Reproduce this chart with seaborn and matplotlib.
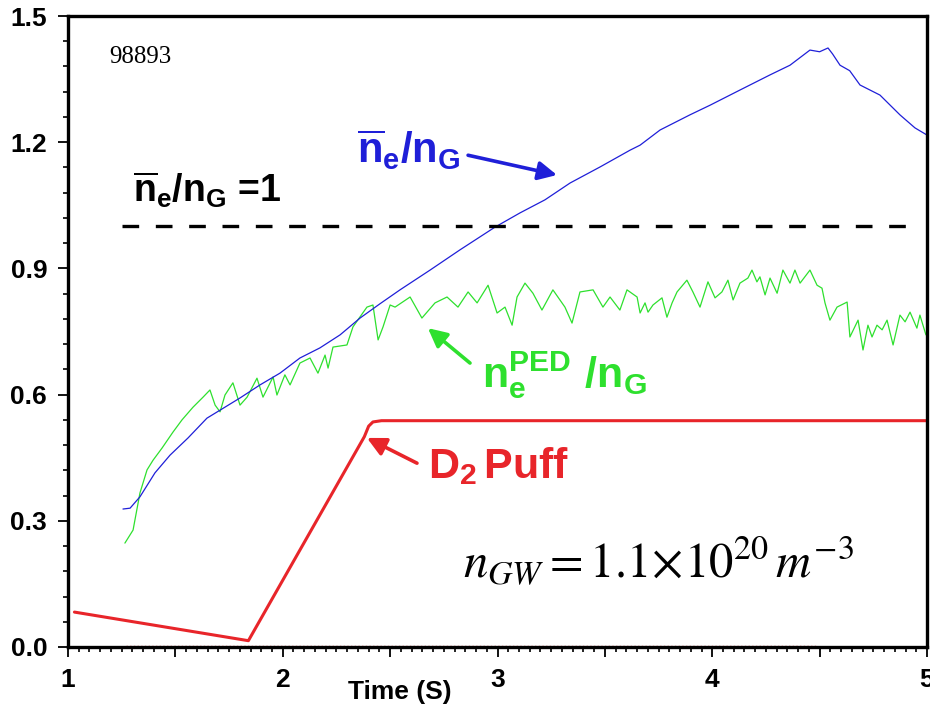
import numpy as np
import pandas as pd
import matplotlib
matplotlib.use("Agg")
import matplotlib.pyplot as plt
from matplotlib.ticker import MultipleLocator, FuncFormatter
import seaborn as sns

# ---------------- data ----------------
blue_t = [1.256, 1.289, 1.335, 1.405, 1.475, 1.559, 1.647, 1.708, 1.801, 1.894,
          1.987, 2.080, 2.173, 2.267, 2.360, 2.453, 2.546, 2.686, 2.825, 2.988,
          3.105, 3.221, 3.338, 3.477, 3.617, 3.664, 3.757, 3.896, 3.990, 4.129,
          4.269, 4.362, 4.455, 4.500, 4.539, 4.560, 4.595, 4.640, 4.688, 4.781,
          4.874, 4.944, 5.000]
blue_v = [0.328, 0.330, 0.357, 0.414, 0.456, 0.497, 0.544, 0.563, 0.592, 0.623,
          0.651, 0.687, 0.711, 0.742, 0.782, 0.816, 0.849, 0.896, 0.944, 0.998,
          1.032, 1.063, 1.103, 1.141, 1.181, 1.193, 1.229, 1.265, 1.288, 1.324,
          1.360, 1.383, 1.419, 1.415, 1.424, 1.410, 1.383, 1.370, 1.336, 1.312,
          1.265, 1.234, 1.217]

green_t = [1.265, 1.303, 1.335, 1.368, 1.396, 1.438, 1.489, 1.531, 1.582, 1.629,
           1.661, 1.685, 1.708, 1.731, 1.768, 1.801, 1.834, 1.880, 1.908, 1.955,
           1.973, 2.010, 2.034, 2.080, 2.127, 2.164, 2.197, 2.211, 2.234, 2.299,
           2.327, 2.392, 2.420, 2.444, 2.467, 2.500,
           2.523, 2.593, 2.648, 2.709, 2.765, 2.816, 2.863, 2.905, 2.956, 2.998,
           3.035, 3.068, 3.091, 3.128, 3.165, 3.207, 3.258, 3.314, 3.347, 3.384,
           3.445, 3.491, 3.524, 3.570, 3.603, 3.650,
           3.664, 3.687, 3.701, 3.724, 3.766, 3.789, 3.813, 3.836, 3.882, 3.910,
           3.943, 3.980, 4.013, 4.045, 4.073, 4.097, 4.129, 4.166, 4.185, 4.208,
           4.222, 4.246, 4.269, 4.302, 4.329, 4.362, 4.385, 4.409, 4.455, 4.488,
           4.511, 4.525, 4.548, 4.581, 4.628, 4.641, 4.679, 4.702, 4.725, 4.744,
           4.767, 4.791, 4.814, 4.842, 4.874, 4.898, 4.921, 4.953, 4.967, 4.995]
green_v = [0.247, 0.278, 0.366, 0.421, 0.444, 0.473, 0.511, 0.540, 0.570, 0.594,
           0.611, 0.575, 0.559, 0.599, 0.628, 0.575, 0.594, 0.639, 0.594, 0.642,
           0.599, 0.647, 0.623, 0.675, 0.687, 0.651, 0.694, 0.663, 0.713, 0.718,
           0.761, 0.808, 0.813, 0.730, 0.761, 0.813,
           0.808, 0.832, 0.782, 0.818, 0.832, 0.808, 0.844, 0.818, 0.860, 0.794,
           0.808, 0.765, 0.832, 0.865, 0.841, 0.801, 0.849, 0.808, 0.770, 0.844,
           0.849, 0.808, 0.832, 0.801, 0.849, 0.832,
           0.794, 0.818, 0.796, 0.813, 0.830, 0.784, 0.818, 0.844, 0.872, 0.844,
           0.808, 0.868, 0.830, 0.844, 0.872, 0.825, 0.865, 0.877, 0.896, 0.868,
           0.880, 0.837, 0.877, 0.841, 0.896, 0.865, 0.896, 0.865, 0.896, 0.860,
           0.853, 0.818, 0.777, 0.808, 0.820, 0.737, 0.777, 0.706, 0.765, 0.737,
           0.765, 0.754, 0.777, 0.718, 0.789, 0.773, 0.796, 0.758, 0.789, 0.742]

red_t = [1.03, 1.84, 2.38, 2.40, 2.42, 2.46, 5.00]
red_v = [0.083, 0.015, 0.500, 0.525, 0.535, 0.538, 0.538]

red_base_t = [1.27, 4.49]
red_base_v = [0.003, 0.003]

limit_t = [1.251, 4.953]
limit_v = [1.0, 1.0]

BLUE = "#1f1fd8"
GREEN = "#2ee02e"
RED = "#e8252a"

# ---------------- style ----------------
sns.set_theme(style="ticks")
plt.rcParams["font.family"] = ["Liberation Sans", "DejaVu Sans"]
plt.rcParams["mathtext.fontset"] = "custom"
plt.rcParams["mathtext.bf"] = "Liberation Sans:bold"
plt.rcParams["mathtext.rm"] = "Liberation Sans:bold"
plt.rcParams["mathtext.it"] = "Liberation Sans:bold:italic"

fig = plt.figure(figsize=(9.3, 7.12), dpi=100)
ax = fig.add_axes([68 / 930, 65 / 712, 859 / 930, 631 / 712])

df_b = pd.DataFrame({"t": blue_t, "v": blue_v})
df_g = pd.DataFrame({"t": green_t, "v": green_v})
df_r = pd.DataFrame({"t": red_t, "v": red_v})
df_rb = pd.DataFrame({"t": red_base_t, "v": red_base_v})
df_l = pd.DataFrame({"t": limit_t, "v": limit_v})

sns.lineplot(data=df_rb, x="t", y="v", ax=ax, color=RED, lw=1.0,
             linestyle=":", estimator=None, sort=False, clip_on=False)
sns.lineplot(data=df_r, x="t", y="v", ax=ax, color=RED, lw=2.2,
             estimator=None, sort=False)
sns.lineplot(data=df_g, x="t", y="v", ax=ax, color=GREEN, lw=0.9,
             estimator=None, sort=False)
sns.lineplot(data=df_b, x="t", y="v", ax=ax, color=BLUE, lw=0.9,
             estimator=None, sort=False)
sns.lineplot(data=df_l, x="t", y="v", ax=ax, color="black", lw=2.4,
             linestyle=(0, (5, 5)), estimator=None, sort=False)

ax.set_xlim(1, 5)
ax.set_ylim(0, 1.5)

for s in ax.spines.values():
    s.set_visible(True)
    s.set_linewidth(2.4)
    s.set_color("black")

ax.xaxis.set_major_locator(MultipleLocator(0.5))
ax.xaxis.set_minor_locator(MultipleLocator(0.05))
ax.xaxis.set_major_formatter(FuncFormatter(
    lambda v, p: f"{int(round(v))}" if abs(v - round(v)) < 1e-6 else ""))
ax.yaxis.set_major_locator(MultipleLocator(0.3))
ax.yaxis.set_minor_locator(MultipleLocator(0.06))
ax.yaxis.set_major_formatter(FuncFormatter(lambda v, p: f"{v:.1f}"))

ax.tick_params(axis="both", which="major", direction="out", length=7,
               width=1.3, color="black", labelsize=19, pad=8,
               labelcolor="black")
ax.tick_params(axis="both", which="minor", direction="out", length=3.5,
               width=1.2, color="black")
ax.tick_params(top=False, right=False, which="both")
for lab in ax.get_xticklabels() + ax.get_yticklabels():
    lab.set_fontweight("bold")

ax.set_xlabel("Time (S)", fontsize=19, fontweight="bold", color="black")
ax.xaxis.set_label_coords((400 - 68) / 859, -33 / 631)
ax.set_ylabel("")

# ---------------- annotations ----------------
ax.text(1.191, 1.388, "98893", fontsize=18, family="Liberation Serif",
        color="black", ha="left", va="baseline")

ax.text(1.303, 1.058, r"$\mathbf{\overline{n}_e/n_G}$ =1",
        fontsize=27, fontweight="bold", color="black",
        ha="left", va="baseline")
ax.text(2.346, 1.150, r"$\mathbf{\overline{n}_e/n_G}$", fontsize=30,
        color=BLUE, ha="left", va="baseline")
ax.text(2.928, 0.618, r"$\mathbf{n_e^{PED}\ /n_G}$", fontsize=31,
        color=GREEN, ha="left", va="baseline")
ax.text(2.676, 0.402, r"$\mathbf{D_2\,Puff}$", fontsize=31,
        color=RED, ha="left", va="baseline")
ax.text(2.839, 0.166,
        r"$\mathit{n}_{\mathit{GW}}=\mathrm{1.1}\!\times\!\mathrm{10}^{\mathrm{20}}\,\mathit{m}^{-\mathrm{3}}$",
        fontsize=35, color="black", ha="left", va="baseline",
        math_fontfamily="stix")

arrow_kw = dict(arrowstyle="-|>", lw=2.6, mutation_scale=28,
                shrinkA=0, shrinkB=0)
ax.annotate("", xy=(3.277, 1.122), xytext=(2.863, 1.169),
            arrowprops=dict(color=BLUE, **arrow_kw))
ax.annotate("", xy=(2.676, 0.758), xytext=(2.872, 0.675),
            arrowprops=dict(color=GREEN, **arrow_kw))
ax.annotate("", xy=(2.392, 0.497), xytext=(2.625, 0.437),
            arrowprops=dict(color=RED, **arrow_kw))

fig.savefig("out.png", dpi=100)
